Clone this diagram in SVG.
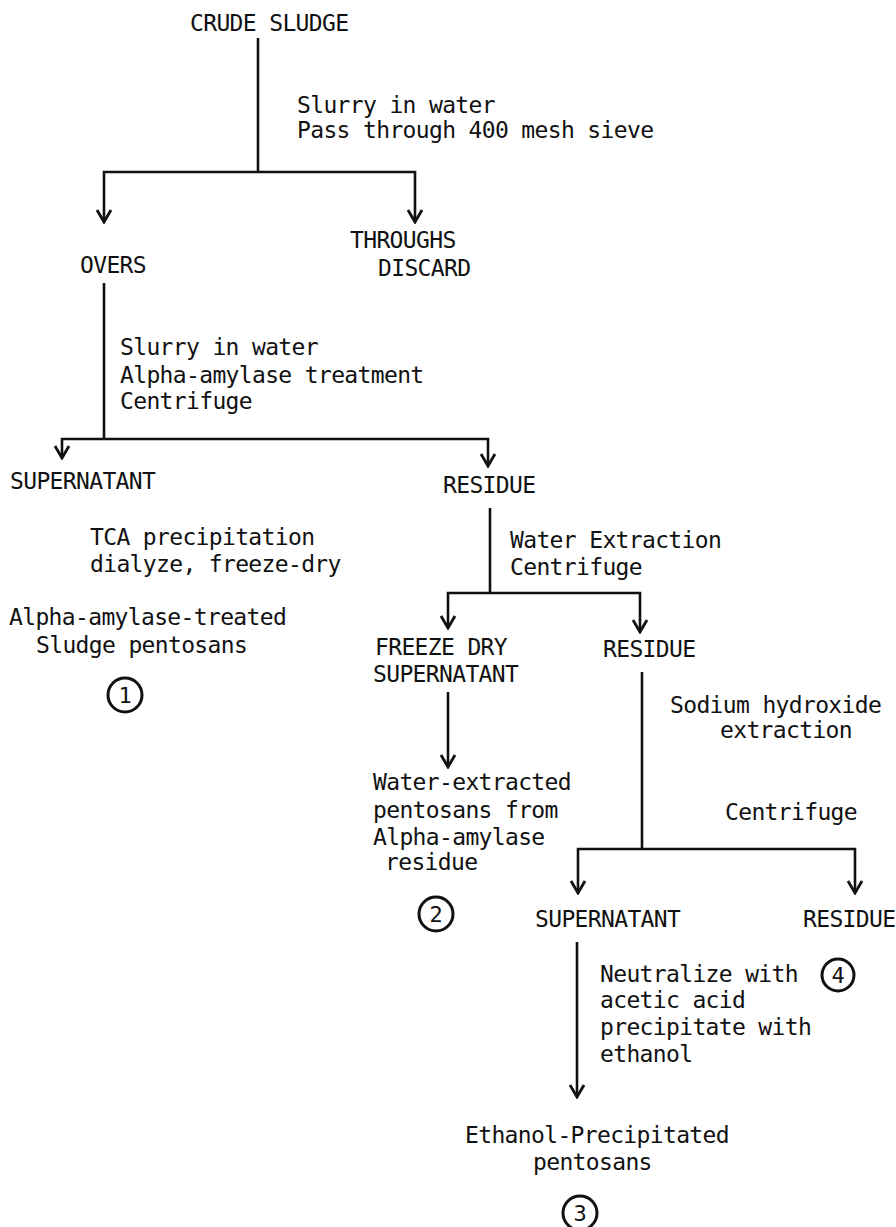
<svg xmlns="http://www.w3.org/2000/svg" width="896" height="1227" viewBox="0 0 896 1227">
<style>
text{font-family:"DejaVu Sans Mono","Liberation Mono",monospace;font-size:23px;letter-spacing:-0.65px;fill:#111;}
.c{fill:none;stroke:#111;stroke-width:3;}
.n{text-anchor:middle;font-size:22px;letter-spacing:0;}
.ln{fill:none;stroke:#111;stroke-width:2.6;stroke-linejoin:miter;}
</style>
<defs>
<marker id="ah" viewBox="-15 -10 17 20" refX="0" refY="0" markerWidth="17" markerHeight="20" markerUnits="userSpaceOnUse" orient="auto">
<path d="M-12,-7 L0,0 L-12,7" fill="none" stroke="#111" stroke-width="2.8"/>
</marker>
</defs>
<rect width="896" height="1227" fill="#fff"/>
<g id="connectors">
<path class="ln" d="M258,38 V172"/>
<path class="ln" d="M258,172 H104 V222" marker-end="url(#ah)"/>
<path class="ln" d="M258,172 H415 V222" marker-end="url(#ah)"/>
<path class="ln" d="M104,283 V439"/>
<path class="ln" d="M104,439 H62 V458" marker-end="url(#ah)"/>
<path class="ln" d="M104,439 H488 V466" marker-end="url(#ah)"/>
<path class="ln" d="M490,508 V593"/>
<path class="ln" d="M490,593 H448 V628" marker-end="url(#ah)"/>
<path class="ln" d="M490,593 H640 V632" marker-end="url(#ah)"/>
<path class="ln" d="M448,692 V767" marker-end="url(#ah)"/>
<path class="ln" d="M642,672 V849"/>
<path class="ln" d="M642,849 H578 V893" marker-end="url(#ah)"/>
<path class="ln" d="M642,849 H855 V893" marker-end="url(#ah)"/>
<path class="ln" d="M577,942 V1097" marker-end="url(#ah)"/>
</g>
<g id="crude-sludge"><text x="190" y="31">CRUDE SLUDGE</text></g>
<g id="step-sieve"><text x="297" y="113">Slurry in water</text><text x="297" y="138">Pass through 400 mesh sieve</text></g>
<g id="throughs"><text x="350" y="248">THROUGHS</text><text x="378" y="276">DISCARD</text></g>
<g id="overs"><text x="80" y="273">OVERS</text></g>
<g id="step-amylase"><text x="120" y="355">Slurry in water</text><text x="120" y="383">Alpha-amylase treatment</text><text x="120" y="409">Centrifuge</text></g>
<g id="supernatant-1"><text x="10" y="489">SUPERNATANT</text></g>
<g id="residue-1"><text x="443" y="493">RESIDUE</text></g>
<g id="step-tca"><text x="90" y="545">TCA precipitation</text><text x="90" y="572">dialyze, freeze-dry</text></g>
<g id="product-1"><text x="9" y="625">Alpha-amylase-treated</text><text x="36" y="653">Sludge pentosans</text>
<circle class="c" cx="125" cy="695" r="17"/><text class="n" x="125" y="703">1</text></g>
<g id="step-water"><text x="510" y="548">Water Extraction</text><text x="510" y="575">Centrifuge</text></g>
<g id="freeze-dry"><text x="375" y="655">FREEZE DRY</text><text x="373" y="682">SUPERNATANT</text></g>
<g id="residue-2"><text x="603" y="657">RESIDUE</text></g>
<g id="step-naoh"><text x="670" y="713">Sodium hydroxide</text><text x="720" y="738">extraction</text><text x="725" y="820">Centrifuge</text></g>
<g id="product-2"><text x="373" y="790">Water-extracted</text><text x="373" y="818">pentosans from</text><text x="373" y="845">Alpha-amylase</text><text x="385" y="870">residue</text>
<circle class="c" cx="436" cy="914" r="17"/><text class="n" x="436" y="922">2</text></g>
<g id="supernatant-3"><text x="535" y="927">SUPERNATANT</text></g>
<g id="residue-3"><text x="803" y="927">RESIDUE</text></g>
<g id="product-4"><circle class="c" cx="838" cy="975" r="16"/><text class="n" x="838" y="983">4</text></g>
<g id="step-neutralize"><text x="600" y="982">Neutralize with</text><text x="600" y="1008">acetic acid</text><text x="600" y="1035">precipitate with</text><text x="600" y="1062">ethanol</text></g>
<g id="product-3"><text x="465" y="1143">Ethanol-Precipitated</text><text x="533" y="1170">pentosans</text>
<circle class="c" cx="580" cy="1213" r="17"/><text class="n" x="580" y="1221">3</text></g>
</svg>
